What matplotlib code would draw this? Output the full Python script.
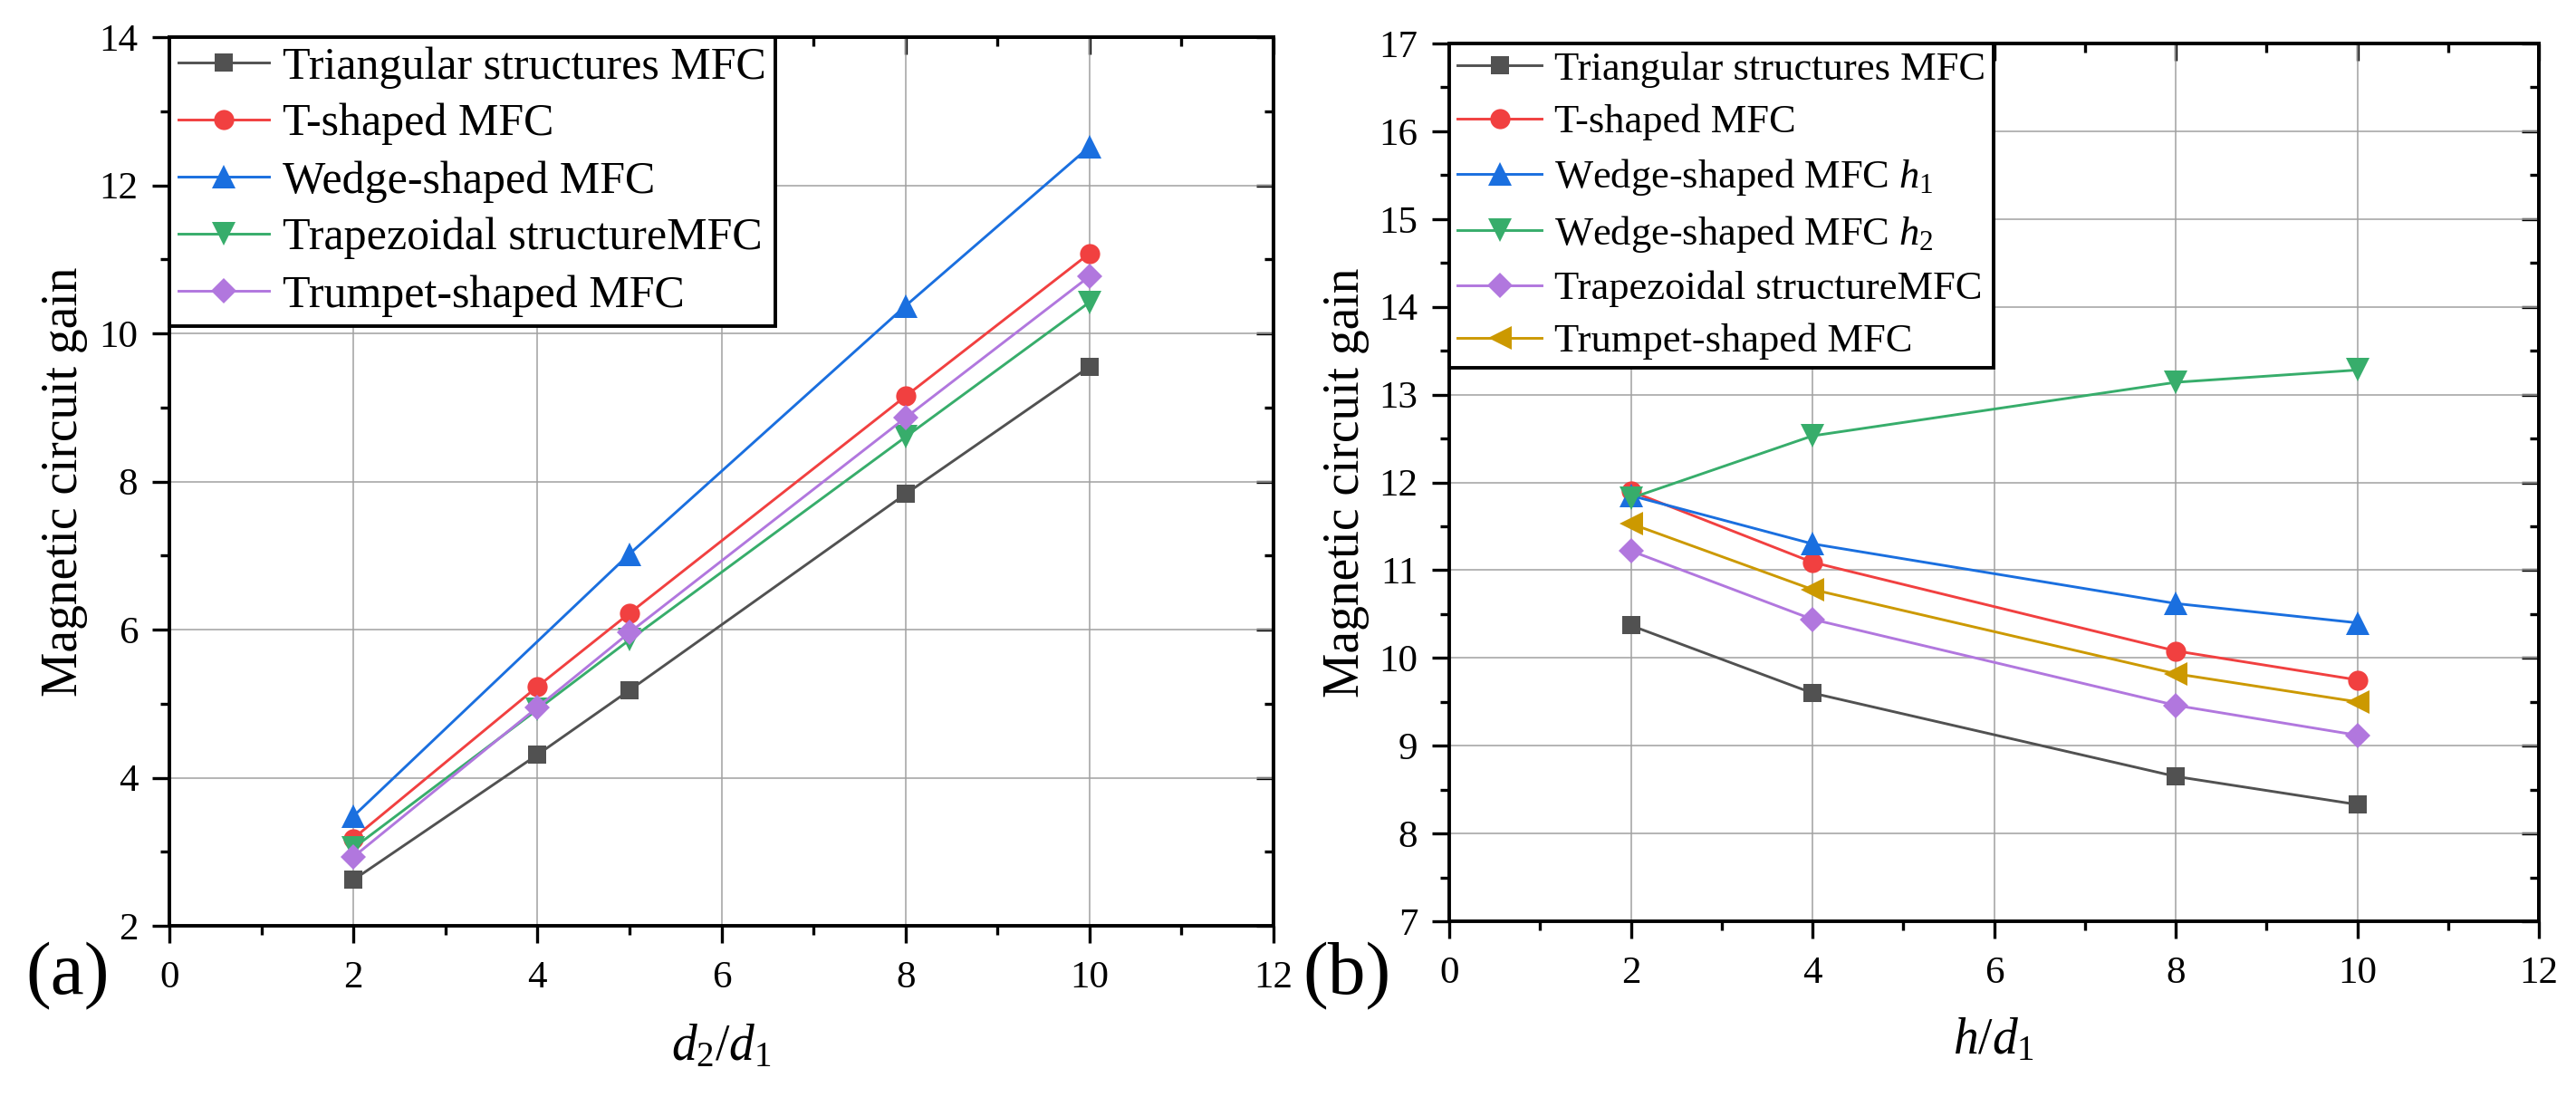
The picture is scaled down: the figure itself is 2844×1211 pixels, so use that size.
import matplotlib
matplotlib.use('Agg')
import matplotlib.pyplot as plt
from matplotlib.ticker import MultipleLocator

plt.rcParams['font.family'] = ['Liberation Serif', 'DejaVu Serif']
plt.rcParams['mathtext.fontset'] = 'custom'
plt.rcParams['mathtext.rm'] = 'Liberation Serif'
plt.rcParams['mathtext.it'] = 'Liberation Serif:italic'

# ---------------- data: panel (a) ----------------
x_a = [2, 4, 5, 8, 10]
x_a_wedge = [2, 5, 8, 10]
tri_a = [2.62, 4.31, 5.18, 7.83, 9.55]
t_a = [3.18, 5.23, 6.22, 9.15, 11.08]
wedge_a = [3.48, 7.02, 10.37, 12.52]
trap_a = [3.05, 4.92, 5.86, 8.60, 10.42]
trump_a = [2.93, 4.95, 5.96, 8.86, 10.77]
labels_a = ['Triangular structures MFC', 'T-shaped MFC', 'Wedge-shaped MFC',
            'Trapezoidal structureMFC', 'Trumpet-shaped MFC']

# ---------------- data: panel (b) ----------------
x_b = [2, 4, 8, 10]
tri_b = [10.37, 9.60, 8.65, 8.33]
t_b = [11.90, 11.09, 10.08, 9.75]
wh1_b = [11.85, 11.30, 10.62, 10.40]
wh2_b = [11.82, 12.53, 13.14, 13.28]
trap_b = [11.22, 10.44, 9.46, 9.12]
trump_b = [11.53, 10.78, 9.82, 9.50]
labels_b = ['Triangular structures MFC', 'T-shaped MFC', r'Wedge-shaped MFC $h_1$',
            r'Wedge-shaped MFC $h_2$', 'Trapezoidal structureMFC', 'Trumpet-shaped MFC']

GRAY, RED, BLUE, GREEN, PURPLE, GOLD = '#515151', '#F14040', '#1A6FDF', '#37AD6B', '#B177DE', '#CC9900'
MS = {'s': 15, 'o': 16, '^': 19, 'v': 19, 'D': 14.5, '<': 19}
LW = 2.1
SPW = 2.8
TW = 2.4

fig = plt.figure(figsize=(28.44, 12.11), dpi=100)
ax1 = fig.add_axes([187/2844, 1-1022/1211, 1219/2844, 981/1211])
ax2 = fig.add_axes([1600/2844, 1-1017/1211, 1203/2844, 969/1211])


def style(ax, ylim, ymaj, ymin):
    ax.set_xlim(0, 12)
    ax.set_ylim(*ylim)
    ax.xaxis.set_major_locator(MultipleLocator(2))
    ax.xaxis.set_minor_locator(MultipleLocator(1))
    ax.yaxis.set_major_locator(MultipleLocator(ymaj))
    ax.yaxis.set_minor_locator(MultipleLocator(ymin))
    ax.tick_params(which='both', direction='out', width=TW, labelsize=31)
    ax.tick_params(which='major', length=14)
    ax.tick_params(which='minor', length=7)
    ax.tick_params(axis='x', which='both', pad=14)
    ax.tick_params(axis='y', which='both', pad=11)
    ax.grid(True, which='major', color='#a0a0a0', lw=1.1)
    ax.set_axisbelow(True)
    for s in ax.spines.values():
        s.set_linewidth(SPW)
    secx = ax.secondary_xaxis('top')
    secx.xaxis.set_major_locator(MultipleLocator(2))
    secx.xaxis.set_minor_locator(MultipleLocator(1))
    secx.tick_params(which='both', direction='in', width=TW, labeltop=False)
    secx.tick_params(which='major', length=14)
    secx.tick_params(which='minor', length=7)
    for s in secx.spines.values():
        s.set_linewidth(SPW)
    secy = ax.secondary_yaxis('right')
    secy.yaxis.set_major_locator(MultipleLocator(ymaj))
    secy.yaxis.set_minor_locator(MultipleLocator(ymin))
    secy.tick_params(which='both', direction='in', width=TW, labelright=False)
    secy.tick_params(which='major', length=14)
    secy.tick_params(which='minor', length=7)
    for s in secy.spines.values():
        s.set_linewidth(SPW)


style(ax1, (2, 14), 2, 1)
style(ax2, (7, 17), 1, 0.5)

# panel (a)
series_a = [(x_a, tri_a, GRAY, 's'), (x_a, t_a, RED, 'o'), (x_a_wedge, wedge_a, BLUE, '^'),
            (x_a, trap_a, GREEN, 'v'), (x_a, trump_a, PURPLE, 'D')]
for (xs, ys, c, m), lab in zip(series_a, labels_a):
    ax1.plot(xs, ys, color=c, marker=m, ms=MS[m], lw=LW, label=lab, markeredgewidth=0)

# panel (b)
series_b = [(x_b, tri_b, GRAY, 's'), (x_b, t_b, RED, 'o'), (x_b, wh1_b, BLUE, '^'),
            (x_b, wh2_b, GREEN, 'v'), (x_b, trap_b, PURPLE, 'D'), (x_b, trump_b, GOLD, '<')]
for (xs, ys, c, m), lab in zip(series_b, labels_b):
    ax2.plot(xs, ys, color=c, marker=m, ms=MS[m], lw=LW, label=lab, markeredgewidth=0)

leg1 = ax1.legend(loc='upper left', bbox_to_anchor=(0, 1), borderaxespad=0, fontsize=36,
                  frameon=True, fancybox=False, edgecolor='black', framealpha=1,
                  borderpad=0.2, handlelength=2.0, handletextpad=0.3, labelspacing=0.33)
leg1.get_frame().set_linewidth(SPW)
leg2 = ax2.legend(loc='upper left', bbox_to_anchor=(0, 1), borderaxespad=0, fontsize=32,
                  frameon=True, fancybox=False, edgecolor='black', framealpha=1,
                  borderpad=0.2, handlelength=2.1, handletextpad=0.3, labelspacing=0.4)
leg2.get_frame().set_linewidth(SPW)

ax1.set_xlabel(r'$d_2/d_1$', fontsize=40)
ax1.xaxis.set_label_coords(0.5, -0.11)
ax2.set_xlabel(r'$h/d_1$', fontsize=40)
ax2.xaxis.set_label_coords(0.5, -0.11)
ax1.set_ylabel('Magnetic circuit gain', fontsize=40)
ax1.yaxis.set_label_coords(-0.074, 0.5)
ax2.set_ylabel('Magnetic circuit gain', fontsize=40)
ax2.yaxis.set_label_coords(-0.073, 0.5)

fig.text(75/2844, 1-1078/1211, '(a)', fontsize=60, ha='center', va='center')
fig.text(1487/2844, 1-1078/1211, '(b)', fontsize=60, ha='center', va='center')

fig.savefig('out.png', dpi=100)
